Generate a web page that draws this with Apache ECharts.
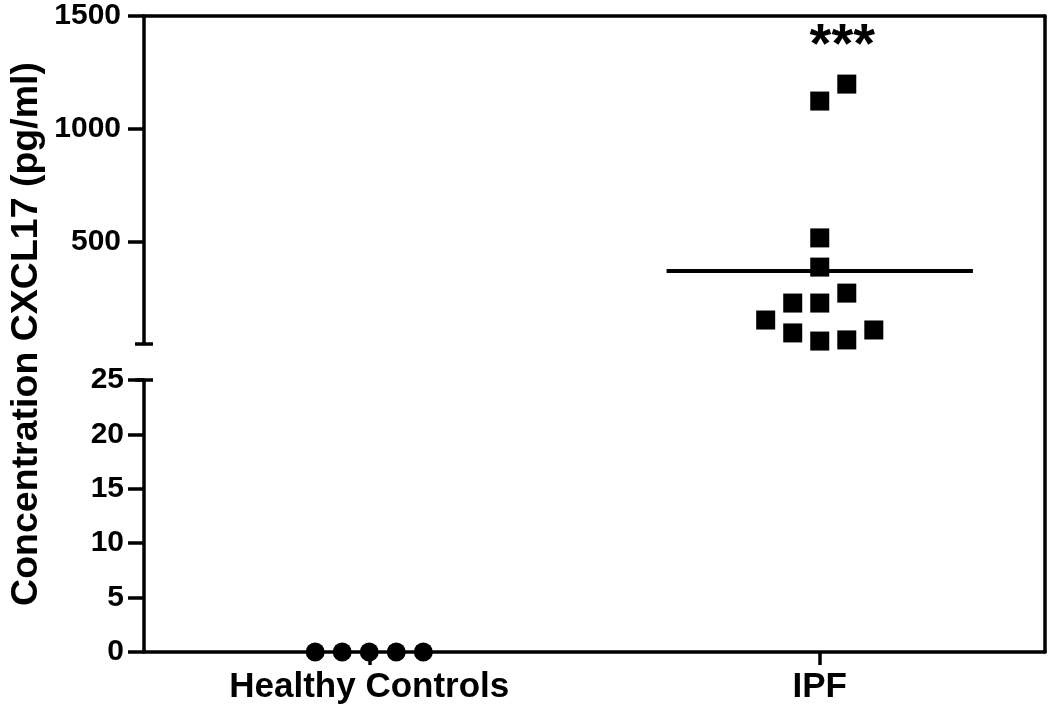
<!DOCTYPE html>
<html>
<head>
<meta charset="utf-8">
<title>CXCL17</title>
<script src="https://cdn.jsdelivr.net/npm/echarts@6/dist/echarts.min.js"></script>
<style>
  html, body { margin: 0; padding: 0; background: #fff; }
  #chart { width: 1050px; height: 707px; }
</style>
</head>
<body>
<div id="chart"></div>
<script>
  // groups on the x axis (positions 1 and 2)
  const groups = ['Healthy Controls', 'IPF']
  // healthy controls, all at zero
  const healthyValues = [0, 0, 0, 0, 0]
  const healthyCols = [-2, -1, 0, 1, 2]
  // IPF patients (pg/ml)
  const ipfValues = [1199, 1124, 519, 390, 275, 231, 231, 156, 99, 63, 68, 112]
  const ipfCols = [1, 0, 0, 0, 1, -1, 0, -2, -1, 0, 1, 2]
  // y ticks of the two axis segments
  const upperTicks = [500, 1000, 1500]
  const lowerTicks = [0, 5, 10, 15, 20, 25]
  // significance mark
  const sigText = '***'
  const sigValue = 1365

  const FONT = '"Liberation Sans", Arial, sans-serif'
  const colStep = 0.06
  const lw = 3.5

  const healthyData = healthyValues.map((v, i) => [1 + healthyCols[i] * colStep, v])
  const ipfData = ipfValues.map((v, i) => [2 + ipfCols[i] * colStep, v])
  const ipfMean = ipfValues.reduce((a, b) => a + b, 0) / ipfValues.length

  const chart = echarts.init(document.getElementById('chart'), null, { renderer: 'canvas' })

  const axisLineStyle = { color: '#000', width: lw }
  const tickStyle = { color: '#000', width: lw }
  const tickLabel = {
    color: '#000', fontFamily: FONT, fontWeight: 'bold', fontSize: 30,
    formatter: v => String(v)
  }

  const option = {
    animation: false,
    backgroundColor: '#fff',
    grid: [
      { left: 144, top: 16, width: 901, height: 328 },
      { left: 144, top: 380, width: 901, height: 272 },
      { left: 144, top: 16, width: 901, height: 636 }
    ],
    xAxis: [
      {
        gridIndex: 0, type: 'value', min: 0.5, max: 2.5, position: 'top',
        axisLine: { show: true, lineStyle: axisLineStyle },
        axisTick: { show: false }, axisLabel: { show: false }, splitLine: { show: false }
      },
      {
        gridIndex: 1, type: 'value', min: 0.5, max: 2.5, position: 'bottom',
        axisLine: { show: true, lineStyle: axisLineStyle },
        axisTick: { show: true, length: 13, lineStyle: tickStyle, customValues: [1, 2] },
        axisLabel: {
          show: true, customValues: [1, 2], margin: 18,
          formatter: v => groups[Math.round(v) - 1],
          color: '#000', fontFamily: FONT, fontWeight: 'bold', fontSize: 35
        },
        splitLine: { show: false }
      },
      { gridIndex: 2, type: 'value', min: 0.5, max: 2.5, show: false }
    ],
    yAxis: [
      {
        gridIndex: 0, type: 'value', min: 50, max: 1500,
        axisLine: { show: true, lineStyle: axisLineStyle, symbol: ['rect', 'none'], symbolSize: [18, lw] },
        axisTick: { show: true, length: 16, lineStyle: tickStyle, customValues: upperTicks },
        axisLabel: Object.assign({ customValues: upperTicks, margin: 23 }, tickLabel),
        splitLine: { show: false }
      },
      {
        gridIndex: 1, type: 'value', min: 0, max: 25, interval: 5,
        axisLine: { show: true, lineStyle: axisLineStyle, symbol: ['none', 'rect'], symbolSize: [18, lw] },
        axisTick: { show: true, length: 16, lineStyle: tickStyle },
        axisLabel: Object.assign({ margin: 20, customValues: lowerTicks }, tickLabel),
        splitLine: { show: false }
      },
      {
        gridIndex: 2, type: 'value', min: 0, max: 1, position: 'left',
        axisLine: { show: false }, axisTick: { show: false }, axisLabel: { show: false },
        splitLine: { show: false },
        name: 'Concentration CXCL17 (pg/ml)', nameLocation: 'middle', nameGap: 131,
        nameTextStyle: { color: '#000', fontFamily: FONT, fontWeight: 'bold', fontSize: 37.5 }
      },
      {
        gridIndex: 2, type: 'value', min: 0, max: 1, position: 'right',
        axisLine: { show: true, lineStyle: axisLineStyle },
        axisTick: { show: false }, axisLabel: { show: false }, splitLine: { show: false }
      }
    ],
    series: [
      {
        name: 'Healthy Controls', type: 'scatter', xAxisIndex: 1, yAxisIndex: 1,
        symbol: 'circle', symbolSize: 19, clip: false,
        itemStyle: { color: '#000', opacity: 1 },
        data: healthyData
      },
      {
        name: 'IPF', type: 'scatter', xAxisIndex: 0, yAxisIndex: 0,
        symbol: 'rect', symbolSize: 19, clip: false,
        itemStyle: { color: '#000', opacity: 1 },
        data: ipfData
      },
      {
        name: 'IPF mean', type: 'line', xAxisIndex: 0, yAxisIndex: 0,
        symbol: 'none', lineStyle: { color: '#000', width: 4 },
        data: [[2 - 0.34, ipfMean], [2 + 0.34, ipfMean]],
        z: 3
      },
      {
        name: 'sig', type: 'scatter', xAxisIndex: 0, yAxisIndex: 0,
        symbolSize: 0, clip: false,
        itemStyle: { opacity: 1 },
        label: {
          show: true, position: 'inside', formatter: sigText,
          color: '#000', opacity: 1, fontFamily: FONT, fontWeight: 'bold', fontSize: 56
        },
        data: [[2.05, sigValue]]
      }
    ]
  }

  chart.setOption(option)
</script>
</body>
</html>
